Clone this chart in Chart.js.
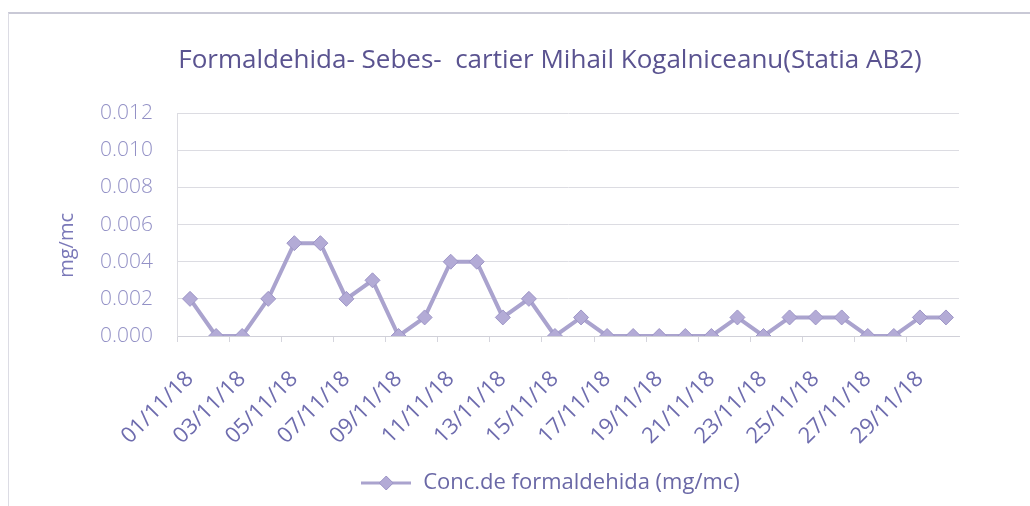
<!DOCTYPE html>
<html>
<head>
<meta charset="utf-8">
<script src="https://cdn.jsdelivr.net/npm/chart.js@4"></script>
<style>
  html, body { margin: 0; padding: 0; background: #fff; overflow: hidden; }
  #wrap { position: relative; width: 1030px; height: 506px; overflow: hidden; }
  #frame { position: absolute; left: 8px; top: 12px; width: 1030px; height: 500px;
           border-top: 2px solid #c9c9d6; border-left: 1px solid #dcdce4; }
  canvas { position: absolute; left: 0; top: 0; }
</style>
</head>
<body>
<div id="wrap">
  <div id="frame"></div>
  <canvas id="chart" width="1045" height="506"></canvas>
</div>
<script>
// date zilnice noiembrie 2018
const zile = [
  '01/11/18','02/11/18','03/11/18','04/11/18','05/11/18','06/11/18','07/11/18','08/11/18',
  '09/11/18','10/11/18','11/11/18','12/11/18','13/11/18','14/11/18','15/11/18','16/11/18',
  '17/11/18','18/11/18','19/11/18','20/11/18','21/11/18','22/11/18','23/11/18','24/11/18',
  '25/11/18','26/11/18','27/11/18','28/11/18','29/11/18','30/11/18'
];
const concentratii = [
  0.002, 0.000, 0.000, 0.002, 0.005, 0.005, 0.002, 0.003,
  0.000, 0.001, 0.004, 0.004, 0.001, 0.002, 0.000, 0.001,
  0.000, 0.000, 0.000, 0.000, 0.000, 0.001, 0.000, 0.001,
  0.001, 0.001, 0.000, 0.000, 0.001, 0.001
];
const yTicks = [0.000, 0.002, 0.004, 0.006, 0.008, 0.010, 0.012];

const culoareLinie = '#aaa3ce';
const culoareText = '#6e6cae';

// simbol legenda: linie cu romb, ca in Excel
function simbolLegenda() {
  const c = document.createElement('canvas');
  c.width = 50; c.height = 16;
  const g = c.getContext('2d');
  g.strokeStyle = culoareLinie;
  g.lineWidth = 3;
  g.beginPath(); g.moveTo(0, 8); g.lineTo(50, 8); g.stroke();
  g.fillStyle = '#b3abd6';
  g.strokeStyle = '#9d95c6';
  g.lineWidth = 1;
  g.beginPath(); g.moveTo(25, 1); g.lineTo(32, 8); g.lineTo(25, 15); g.lineTo(18, 8); g.closePath();
  g.fill(); g.stroke();
  return c;
}

const ctx = document.getElementById('chart').getContext('2d');
new Chart(ctx, {
  type: 'line',
  data: {
    labels: zile,
    datasets: [{
      label: 'Conc.de formaldehida (mg/mc)',
      data: concentratii,
      borderColor: culoareLinie,
      borderWidth: 4,
      pointStyle: 'rectRot',
      pointRadius: 7.5,
      pointBackgroundColor: '#b3abd6',
      pointBorderColor: '#9d95c6',
      pointBorderWidth: 1,
      tension: 0
    }]
  },
  options: {
    responsive: false,
    animation: false,
    layout: { padding: { left: 55, right: 0, top: 0, bottom: 2 } },
    plugins: {
      title: {
        display: true,
        text: 'Formaldehida- Sebes-  cartier Mihail Kogalniceanu(Statia AB2)',
        color: '#5a5390',
        font: { family: 'Open Sans', size: 26, weight: 'normal' },
        padding: { top: 45, bottom: 37 }
      },
      legend: {
        position: 'bottom',
        labels: {
          color: '#6a68a6',
          font: { family: 'Open Sans', size: 22 },
          usePointStyle: true,
          pointStyleWidth: 52,
          padding: 10,
          generateLabels: chart => {
            const items = Chart.defaults.plugins.legend.labels.generateLabels(chart);
            items.forEach(it => { it.pointStyle = simbolLegenda(); });
            return items;
          }
        }
      },
      tooltip: { enabled: false }
    },
    scales: {
      x: {
        offset: true,
        afterFit: axis => { axis.height = 126; },
        grid: {
          offset: true,
          drawOnChartArea: false,
          tickLength: 6,
          color: ctx => (ctx.index % 2 === 0 ? '#d5d5dd' : 'rgba(0,0,0,0)')
        },
        border: { color: '#d0d0d8' },
        ticks: {
          autoSkip: false,
          maxRotation: 45,
          minRotation: 45,
          padding: 24,
          color: culoareText,
          font: { family: 'Open Sans', size: 22 },
          callback: function(val, i) { return i % 2 === 0 ? zile[i] : ''; }
        }
      },
      y: {
        min: 0,
        max: 0.012,
        afterFit: axis => { axis.width = 122; },
        afterBuildTicks: axis => { axis.ticks = yTicks.map(v => ({ value: v })); },
        grid: { color: '#dcdce2', drawTicks: false },
        border: { display: true, color: '#dcdce2' },
        ticks: {
          color: '#9391c6',
          padding: 24,
          font: { family: 'Open Sans', size: 21, weight: '300' },
          callback: v => v.toFixed(3)
        },
        title: {
          display: true,
          text: 'mg/mc        ',
          color: '#7a78b8',
          font: { family: 'Open Sans', size: 20 },
          padding: { top: 0, bottom: 0 }
        }
      },
      // axa goala in dreapta, doar ca sa lase spatiu
      y2: {
        position: 'right',
        display: true,
        afterFit: axis => { axis.width = 86; },
        grid: { display: false, drawTicks: false },
        border: { display: false },
        ticks: { display: false }
      }
    }
  }
});
</script>
</body>
</html>
